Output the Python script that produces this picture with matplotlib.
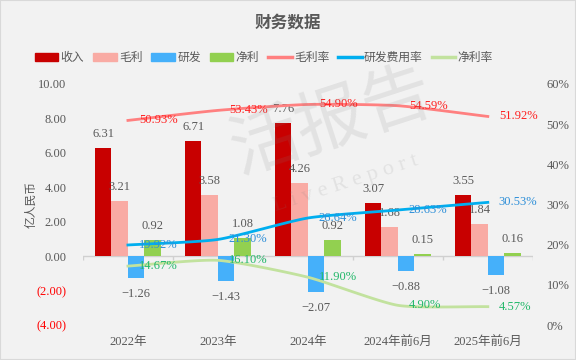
import numpy as np
import matplotlib.pyplot as plt
from matplotlib.patches import Patch, Rectangle
from matplotlib.lines import Line2D

plt.rcParams['font.family'] = ['Liberation Serif', 'Noto Sans CJK SC', 'DejaVu Sans']

# data
categories = ['2022年', '2023年', '2024年', '2024年前6月', '2025年前6月']
revenue = [6.31, 6.71, 7.76, 3.07, 3.55]
gross = [3.21, 3.58, 4.26, 1.68, 1.84]
rd = [-1.26, -1.43, -2.07, -0.88, -1.08]
net = [0.92, 1.08, 0.92, 0.15, 0.16]
gm_rate = [50.93, 53.43, 54.90, 54.59, 51.92]
rd_rate = [19.92, 21.30, 26.64, 28.63, 30.53]
net_rate = [14.67, 16.10, 11.90, 4.90, 4.57]

bar_names = ['收入', '毛利', '研发', '净利']
bar_colors = ['#C80000', '#F9ABA4', '#45B0FA', '#92D050']
line_names = ['毛利率', '研发费用率', '净利率']
line_colors = ['#FF8080', '#00AEEF', '#C2E29E']
label_colors = ['#FF2020', '#2E8FD8', '#22B86A']
gray = '#595959'
bg = '#F2F2F2'


# smooth line through the points (cubic Hermite with damped tangents)
def smooth(x, y, n=30, k=0.6):
    x = np.asarray(x, float)
    y = np.asarray(y, float)
    px = np.concatenate([[2 * x[0] - x[1]], x, [2 * x[-1] - x[-2]]])
    py = np.concatenate([[2 * y[0] - y[1]], y, [2 * y[-1] - y[-2]]])
    xs, ys = [], []
    t = np.linspace(0, 1, n)
    h00 = 2 * t**3 - 3 * t**2 + 1
    h10 = t**3 - 2 * t**2 + t
    h01 = -2 * t**3 + 3 * t**2
    h11 = t**3 - t**2
    for i in range(1, len(px) - 2):
        for p, out in ((px, xs), (py, ys)):
            m1 = k * 0.5 * (p[i + 1] - p[i - 1])
            m2 = k * 0.5 * (p[i + 2] - p[i])
            out.extend(h00 * p[i] + h10 * m1 + h01 * p[i + 1] + h11 * m2)
    return xs, ys


fig = plt.figure(figsize=(5.76, 3.6), dpi=100, facecolor=bg)
ax = fig.add_axes([0.144, 0.0972, 0.781, 0.6695])
ax.set_facecolor(bg)
ax2 = ax.twinx()

x = np.arange(len(categories))
w = 0.183
offsets = [-1.5 * w, -0.5 * w, 0.5 * w, 1.5 * w]
for vals, off, c in zip([revenue, gross, rd, net], offsets, bar_colors):
    ax.bar(x + off, vals, width=w, color=c, zorder=2)
    for xi, v in zip(x + off, vals):
        if v >= 0:
            ax.annotate(f'{v:.2f}', (xi, v), xytext=(0, 8), textcoords='offset pixels',
                        ha='center', va='bottom', fontsize=9, color=gray)
        else:
            ax.annotate(f'\u2212{abs(v):.2f}', (xi, v), xytext=(0, -10), textcoords='offset pixels',
                        ha='center', va='top', fontsize=9, color=gray)

# zero axis line with category boundary ticks
ax.axhline(0, color='#D0D0D0', lw=1, zorder=1)
ax.vlines(np.arange(-0.5, len(categories)), -0.25, 0, color='#D0D0D0', lw=1, zorder=1)

ax.set_xlim(-0.5, len(categories) - 0.5)
ax.set_ylim(-4, 10)
ax.set_yticks(np.arange(-4, 11, 2))
ax.set_yticklabels([f'({abs(v):.2f})' if v < 0 else f'{v:.2f}' for v in range(-4, 11, 2)])
for lab, v in zip(ax.get_yticklabels(), range(-4, 11, 2)):
    lab.set_color('#FF0000' if v < 0 else gray)
ax.set_xticks(x)
ax.set_xticklabels(categories, fontsize=9, color=gray)
ax.tick_params(axis='both', length=0, labelsize=9)
ax.tick_params(axis='x', pad=8)
ax.tick_params(axis='y', pad=12)
for s in ax.spines.values():
    s.set_visible(False)
ax.set_ylabel('亿人民币', fontsize=8.5, color=gray, labelpad=-1)

# rate lines on the right axis
for vals, c, lc in zip([gm_rate, rd_rate, net_rate], line_colors, label_colors):
    sx, sy = smooth(x, vals)
    ax2.plot(sx, sy, color=c, lw=2, zorder=3)
    for xi, v in zip(x, vals):
        ax2.annotate(f'{v:.2f}%', (xi, v), xytext=(11, 0), textcoords='offset pixels',
                     ha='left', va='center', fontsize=9, color=lc)
ax2.set_ylim(0, 60)
ax2.set_yticks(np.arange(0, 61, 10))
ax2.set_yticklabels([f'{v}%' for v in range(0, 61, 10)])
ax2.tick_params(axis='y', length=0, labelsize=9, labelcolor=gray, pad=10)
for s in ax2.spines.values():
    s.set_visible(False)

# title and legend
fig.text(0.5, 0.935, '财务数据', ha='center', va='center', fontsize=12,
         fontweight='bold', color=gray)
handles = [Patch(color=c, label=n) for n, c in zip(bar_names, bar_colors)]
handles += [Line2D([], [], color=c, lw=2.5, label=n) for n, c in zip(line_names, line_colors)]
leg = fig.legend(handles=handles, loc='center', bbox_to_anchor=(0.458, 0.838), ncol=7,
                 frameon=False, fontsize=8.5, handlelength=2.0, handleheight=0.6,
                 handletextpad=0.2, columnspacing=0.75, labelcolor=gray)

# faint watermark
fig.text(0.575, 0.66, '活报告', ha='center', va='center', fontsize=50, color='#808080',
         alpha=0.14, rotation=18, family=['Noto Sans CJK SC'])
fig.text(0.60, 0.49, 'L i v e R e p o r t', ha='center', va='center', fontsize=16,
         color='#808080', alpha=0.14, rotation=18)

# figure border
fig.patches.append(Rectangle((0, 0), 1, 1, transform=fig.transFigure, fill=False,
                             edgecolor='#D9D9D9', lw=1.5))

fig.savefig('out.png', dpi=100, facecolor=bg)
